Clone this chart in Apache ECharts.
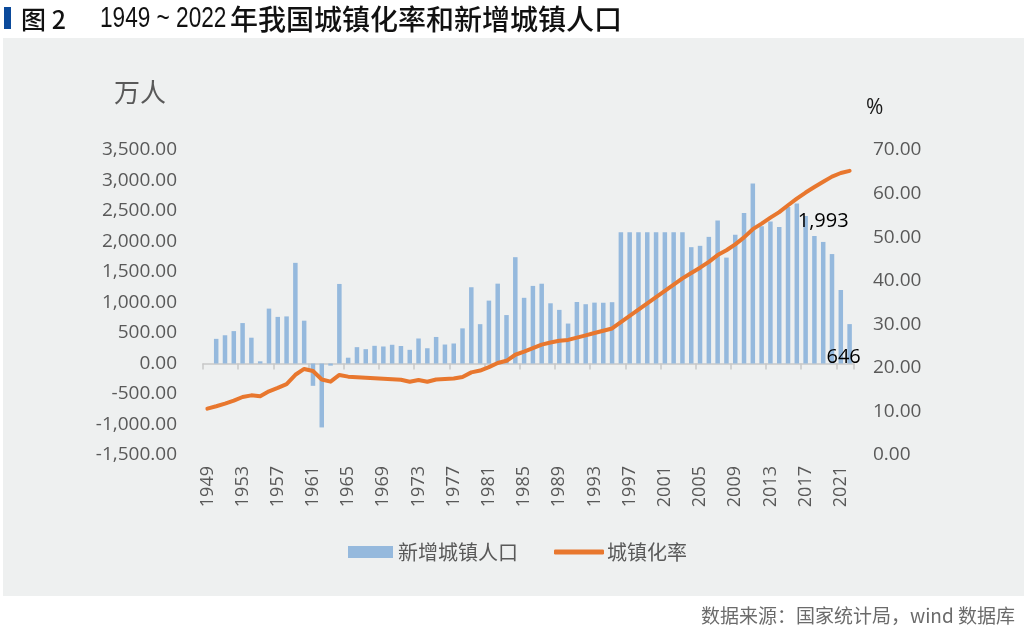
<!DOCTYPE html>
<html>
<head>
<meta charset="utf-8">
<script src="https://cdn.jsdelivr.net/npm/echarts@6/dist/echarts.min.js"></script>
<style>
html,body{margin:0;padding:0;background:#fff;}
#chart{width:1024px;height:631px;}
</style>
</head>
<body>
<div id="chart"></div>
<script>
// ---- data ----
const years = [];
for (let y = 1949; y <= 2022; y++) years.push(String(y));

// 新增城镇人口 (万人), 1949..2022
const newUrbanPop = [
  null, 404, 463, 531, 663, 423, 36, 900, 764, 772,
  1650, 702, -366, -1048, -35, 1304, 95, 268, 235, 290,
  279, 307, 287, 224, 410, 250, 435, 311, 328, 576,
  1250, 645, 1031, 1309, 794, 1743, 1077, 1272, 1308, 987,
  879, 655, 1008, 972, 998, 996, 1005, 2150, 2150, 2150,
  2150, 2150, 2150, 2150, 2150, 1907, 1929, 2076, 2345, 1736,
  2109, 2466, 2949, 2248, 2327, 2236, 2564, 2622, 2419, 2090,
  1993, 1794, 1205, 646
];

// 城镇化率 (%), 1949..2022
const urbanRate = [
  10.64, 11.18, 11.78, 12.46, 13.31, 13.69, 13.48, 14.62, 15.39, 16.25,
  18.41, 19.75, 19.29, 17.33, 16.84, 18.37, 17.98, 17.86, 17.74, 17.62,
  17.50, 17.38, 17.26, 16.80, 17.20, 16.80, 17.34, 17.44, 17.55, 17.92,
  18.96, 19.39, 20.16, 21.13, 21.62, 23.01, 23.71, 24.52, 25.32, 25.81,
  26.21, 26.41, 26.94, 27.46, 27.99, 28.51, 29.04, 30.48, 31.91, 33.35,
  34.78, 36.22, 37.66, 39.09, 40.53, 41.76, 42.99, 44.34, 45.89, 46.99,
  48.34, 49.95, 51.83, 53.10, 54.49, 55.75, 57.33, 58.84, 60.24, 61.50,
  62.71, 63.89, 64.72, 65.22
];

const leftTicks = { min: -1500, max: 3500, interval: 500 };
const rightTicks = { min: 0, max: 70, interval: 10 };

const figureNo = '图 2';
const titleYears = '1949 ~ 2022';
const titleText = '年我国城镇化率和新增城镇人口';
const sourceText = '数据来源：国家统计局，wind 数据库';

// ---- chart ----
const numFont = '"Open Sans", "Noto Sans CJK SC", sans-serif';
const cjkFont = '"Noto Sans CJK SC", sans-serif';
const grey = '#595959';
const barColor = '#95b9dd';
const lineColor = '#e8772e';

const barData = newUrbanPop.map((v, i) => {
  const y = years[i];
  if (y === '2019') {
    return { value: v, label: { show: true, position: 'top', distance: 11 } };
  }
  if (y === '2022') {
    return { value: v, label: { show: true, position: 'insideBottom', distance: 0, offset: [-6, 4] } };
  }
  return v;
});

const chart = echarts.init(document.getElementById('chart'), null, { renderer: 'canvas' });

chart.setOption({
  backgroundColor: '#ffffff',
  animation: false,
  graphic: [
    { type: 'rect', z: 0, shape: { x: 3, y: 38, width: 1021, height: 558 }, style: { fill: '#eef0f0' } },
    { type: 'rect', z: 1, shape: { x: 4, y: 7, width: 7, height: 22 }, style: { fill: '#0b4a9b' } },
    { type: 'text', z: 10, style: { x: 21, y: 19, text: figureNo, font: '500 25px "Noto Sans CJK SC", sans-serif', fill: '#111', textVerticalAlign: 'middle' } },
    { type: 'text', z: 10, x: 100, y: 19, scaleX: 0.78, style: { x: 0, y: 0, text: titleYears, font: '29px "Liberation Sans", sans-serif', fill: '#111', textVerticalAlign: 'middle' } },
    { type: 'text', z: 10, style: { x: 230, y: 19, text: titleText, font: '500 28px "Noto Sans CJK SC", sans-serif', fill: '#111', textVerticalAlign: 'middle' } },
    { type: 'text', z: 10, style: { x: 114, y: 92, text: '万人', font: '26px "Noto Sans CJK SC", sans-serif', fill: grey, textVerticalAlign: 'middle' } },
    { type: 'text', z: 10, style: { x: 866, y: 108, text: '%', font: '21px "Open Sans", sans-serif', fill: '#1a1a1a', textVerticalAlign: 'middle' } },
    { type: 'text', z: 10, style: { x: 1015, y: 616, text: sourceText, font: '19px "Noto Sans CJK SC", sans-serif', fill: '#6b6b6b', textAlign: 'right', textVerticalAlign: 'middle' } }
  ],
  grid: { left: 203, right: 170, top: 150, bottom: 176, containLabel: false },
  legend: [
    {
      left: 343, top: 537, itemWidth: 45, itemHeight: 12, itemGap: 20,
      data: [{ name: '新增城镇人口', icon: 'rect' }],
      textStyle: { color: grey, fontSize: 20, fontFamily: cjkFont, padding: [0, 0, 0, 0] }
    },
    {
      left: 549, top: 537, itemWidth: 50, itemHeight: 5,
      data: [{ name: '城镇化率', icon: 'roundRect' }],
      textStyle: { color: grey, fontSize: 20, fontFamily: cjkFont, padding: [0, 0, 0, -2] }
    }
  ],
  xAxis: [
    {
      type: 'category', data: years, position: 'bottom',
      axisLine: { show: false }, axisTick: { show: false },
      axisLabel: { interval: 3, rotate: 90, margin: 11, color: grey, fontSize: 18, fontFamily: numFont }
    },
    {
      type: 'category', data: years, position: 'bottom',
      axisLine: { show: true, onZero: true, onZeroAxisIndex: 0, lineStyle: { color: '#c8c8c8', width: 1.5 } },
      axisTick: { show: true, interval: 3, length: 6, lineStyle: { color: '#c8c8c8', width: 1.5 } },
      axisLabel: { show: false }
    }
  ],
  yAxis: [
    {
      type: 'value', min: leftTicks.min, max: leftTicks.max, interval: leftTicks.interval,
      axisLine: { show: false }, axisTick: { show: false }, splitLine: { show: false },
      axisLabel: {
        margin: 26, color: grey, fontSize: 19, fontFamily: numFont,
        formatter: v => v.toLocaleString('en-US', { minimumFractionDigits: 2, maximumFractionDigits: 2 })
      }
    },
    {
      type: 'value', min: rightTicks.min, max: rightTicks.max, interval: rightTicks.interval,
      axisLine: { show: false }, axisTick: { show: false }, splitLine: { show: false },
      axisLabel: { margin: 19, color: grey, fontSize: 19, fontFamily: numFont, formatter: v => v.toFixed(2) }
    }
  ],
  series: [
    {
      name: '新增城镇人口', type: 'bar', xAxisIndex: 0, yAxisIndex: 0,
      data: barData, barWidth: 4.5, z: 2,
      itemStyle: { color: barColor },
      label: {
        show: false, color: '#000', fontSize: 20, fontFamily: '"Open Sans", sans-serif',
        formatter: p => p.value.toLocaleString('en-US')
      }
    },
    {
      name: '城镇化率', type: 'line', xAxisIndex: 0, yAxisIndex: 1,
      data: urbanRate, showSymbol: false, symbol: 'none', z: 3,
      itemStyle: { color: lineColor },
      lineStyle: { color: lineColor, width: 4, cap: 'round', join: 'round' }
    }
  ]
});
</script>
</body>
</html>
